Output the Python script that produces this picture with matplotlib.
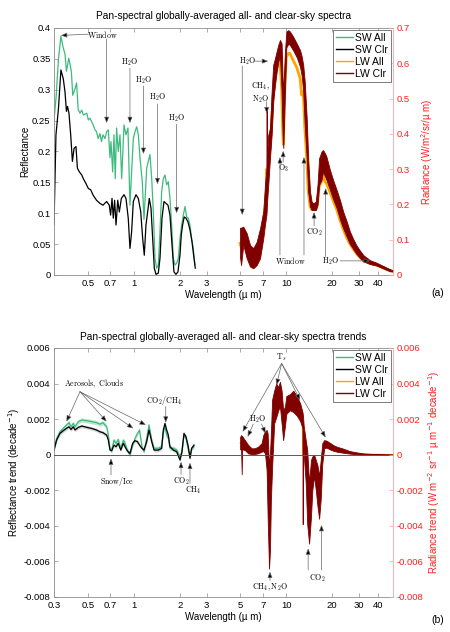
import matplotlib
matplotlib.use("Agg")
import matplotlib.pyplot as plt
from matplotlib.lines import Line2D
from matplotlib.ticker import NullLocator

plt.rcParams['font.family'] = ['Liberation Sans', 'DejaVu Sans']
plt.rcParams['font.size'] = 7
plt.rcParams['axes.linewidth'] = 0.6

# ---------------- panel (a): spectra ----------------
sw_all_wl = [0.300, 0.310, 0.321, 0.333, 0.343, 0.354, 0.362, 0.375, 0.383, 0.390,
             0.398, 0.410, 0.422, 0.432, 0.444, 0.456, 0.467, 0.492, 0.504, 0.516,
             0.542, 0.557, 0.570, 0.584, 0.600, 0.614, 0.628, 0.648, 0.664, 0.681,
             0.698, 0.709, 0.727, 0.742, 0.756, 0.772, 0.791, 0.812, 0.833, 0.863,
             0.889, 0.916, 0.944, 0.968, 0.993, 1.019, 1.045, 1.071, 1.098, 1.137,
             1.167, 1.215, 1.245, 1.277, 1.311, 1.343, 1.377, 1.413, 1.448, 1.485,
             1.523, 1.562, 1.601, 1.642, 1.684, 1.727, 1.771, 1.816, 1.862, 1.910,
             1.958, 2.008, 2.059, 2.112, 2.166, 2.221, 2.277, 2.335, 2.395, 2.455, 2.518]
sw_all_ref = [0.250, 0.290, 0.350, 0.387, 0.370, 0.358, 0.330, 0.351, 0.340, 0.329,
              0.291, 0.300, 0.311, 0.268, 0.262, 0.267, 0.259, 0.262, 0.251, 0.254,
              0.243, 0.235, 0.232, 0.221, 0.229, 0.216, 0.227, 0.221, 0.232, 0.235,
              0.190, 0.216, 0.167, 0.227, 0.156, 0.238, 0.200, 0.227, 0.156, 0.243,
              0.227, 0.238, 0.113, 0.167, 0.221, 0.232, 0.240, 0.227, 0.190, 0.151,
              0.090, 0.173, 0.184, 0.195, 0.156, 0.103, 0.027, 0.011, 0.016, 0.070,
              0.135, 0.156, 0.162, 0.146, 0.151, 0.124, 0.081, 0.027, 0.016, 0.019,
              0.027, 0.059, 0.081, 0.097, 0.111, 0.094, 0.092, 0.081, 0.059, 0.043, 0.016]

sw_clr_wl = [0.300, 0.309, 0.321, 0.333, 0.345, 0.354, 0.362, 0.368, 0.376, 0.386,
             0.396, 0.406, 0.418, 0.427, 0.440, 0.456, 0.467, 0.486, 0.504, 0.522,
             0.542, 0.570, 0.600, 0.628, 0.664, 0.691, 0.705, 0.720, 0.734, 0.749,
             0.765, 0.785, 0.804, 0.829, 0.863, 0.889, 0.920, 0.944, 0.968, 0.993,
             1.034, 1.071, 1.110, 1.144, 1.172, 1.202, 1.234, 1.264, 1.297, 1.330,
             1.363, 1.398, 1.448, 1.485, 1.531, 1.578, 1.626, 1.676, 1.727, 1.780,
             1.834, 1.890, 1.948, 2.008, 2.048, 2.090, 2.140, 2.199, 2.266, 2.335,
             2.407, 2.481, 2.530]
sw_clr_ref = [0.081, 0.227, 0.270, 0.332, 0.318, 0.297, 0.265, 0.273, 0.262, 0.227,
              0.184, 0.205, 0.208, 0.173, 0.167, 0.162, 0.156, 0.148, 0.140, 0.138,
              0.129, 0.121, 0.116, 0.113, 0.119, 0.113, 0.097, 0.124, 0.092, 0.121,
              0.081, 0.121, 0.102, 0.124, 0.130, 0.124, 0.092, 0.043, 0.070, 0.119,
              0.130, 0.124, 0.103, 0.059, 0.032, 0.081, 0.103, 0.124, 0.108, 0.059,
              0.011, 0.001, 0.003, 0.027, 0.092, 0.119, 0.116, 0.113, 0.097, 0.049,
              0.005, 0.001, 0.005, 0.032, 0.065, 0.081, 0.094, 0.092, 0.086, 0.073,
              0.054, 0.027, 0.011]

# LW radiance: envelope of the dense line-by-line spectrum
rad_wl = [4.97, 5.05, 5.22, 5.50, 5.78, 6.07, 6.39, 6.72, 7.06, 7.24,
          7.40, 7.43, 7.46, 7.61, 7.81, 8.01, 8.20, 8.42, 8.63, 8.85,
          9.08, 9.31, 9.45, 9.55, 9.64, 9.79, 10.0, 10.3, 10.55, 11.1,
          11.7, 12.3, 12.6, 12.9, 13.2, 13.6, 13.9, 14.3, 14.65, 15.0,
          15.6, 16.0, 16.4, 17.0, 17.4, 17.9, 18.3, 19.3, 20.3, 21.4,
          22.5, 23.6, 24.9, 26.1, 27.5, 28.9, 30.4, 32.0, 35.3, 38.9,
          43.0, 47.5, 50.0]
lw_clr_hi = [0.134, 0.134, 0.137, 0.118, 0.085, 0.076, 0.094, 0.132, 0.180, 0.255,
             0.300, 0.470, 0.330, 0.397, 0.416, 0.520, 0.595, 0.614, 0.633, 0.652,
             0.666, 0.656, 0.557, 0.520, 0.560, 0.633, 0.690, 0.694, 0.690, 0.675,
             0.656, 0.637, 0.620, 0.595, 0.548, 0.444, 0.331, 0.236, 0.208, 0.203,
             0.208, 0.255, 0.331, 0.350, 0.354, 0.345, 0.336, 0.298, 0.268, 0.240,
             0.211, 0.179, 0.151, 0.123, 0.101, 0.083, 0.069, 0.056, 0.042, 0.035,
             0.026, 0.017, 0.013]
lw_clr_lo = [0.050, 0.028, 0.085, 0.047, 0.024, 0.019, 0.028, 0.047, 0.104, 0.142,
             0.170, 0.180, 0.200, 0.255, 0.331, 0.397, 0.491, 0.538, 0.576, 0.604,
             0.623, 0.520, 0.397, 0.360, 0.420, 0.520, 0.645, 0.655, 0.652, 0.636,
             0.617, 0.590, 0.565, 0.520, 0.425, 0.331, 0.236, 0.194, 0.184, 0.184,
             0.184, 0.198, 0.255, 0.270, 0.293, 0.280, 0.270, 0.242, 0.214, 0.189,
             0.157, 0.132, 0.108, 0.088, 0.073, 0.059, 0.048, 0.039, 0.031, 0.027,
             0.019, 0.011, 0.010]
lw_all_rad = [0.090, 0.080, 0.110, 0.080, 0.050, 0.045, 0.060, 0.090, 0.140, 0.190,
              0.230, 0.300, 0.260, 0.310, 0.360, 0.430, 0.510, 0.550, 0.580, 0.600,
              0.610, 0.530, 0.420, 0.370, 0.430, 0.540, 0.618, 0.628, 0.628, 0.608,
              0.588, 0.558, 0.510, 0.520, 0.420, 0.330, 0.240, 0.195, 0.185, 0.185,
              0.185, 0.200, 0.250, 0.265, 0.285, 0.265, 0.260, 0.235, 0.210, 0.185,
              0.155, 0.130, 0.105, 0.088, 0.073, 0.060, 0.050, 0.040, 0.033, 0.028,
              0.020, 0.012, 0.010]

# ---------------- panel (b): trends ----------------
trend_sw_wl = [0.300, 0.312, 0.328, 0.345, 0.362, 0.376, 0.388, 0.401, 0.412, 0.433,
               0.456, 0.492, 0.528, 0.570, 0.600, 0.628, 0.664, 0.681, 0.698, 0.716,
               0.742, 0.765, 0.791, 0.821, 0.854, 0.876, 0.906, 0.944, 0.983, 1.019,
               1.058, 1.090, 1.131, 1.167, 1.215, 1.258, 1.311, 1.357, 1.448, 1.523,
               1.562, 1.601, 1.642, 1.684, 1.727, 1.816, 1.910, 2.008, 2.069, 2.133,
               2.199, 2.277, 2.335, 2.395, 2.481]
sw_all_trend = [0.00026, 0.00092, 0.00129, 0.00148, 0.00167, 0.00180, 0.00157, 0.00176, 0.00157, 0.00186,
                0.00195, 0.00191, 0.00186, 0.00180, 0.00172, 0.00180, 0.00157, 0.00110, 0.00036, 0.00026,
                0.00082, 0.00064, 0.00086, 0.00036, 0.00082, 0.00064, 0.00026, -0.00002, 0.00054, 0.00092,
                0.00120, 0.00139, 0.00045, 0.00017, 0.00092, 0.00167, 0.00082, 0.00036, 0.00036, 0.00045,
                0.00129, 0.00157, 0.00110, 0.00092, 0.00036, 0.00036, 0.00026, -0.00011, 0.00017, 0.00110,
                0.00092, 0.00026, -0.00010, 0.00036, 0.00045]
sw_clr_trend = [0.00026, 0.00082, 0.00120, 0.00135, 0.00148, 0.00157, 0.00142, 0.00157, 0.00139, 0.00154,
                0.00161, 0.00154, 0.00148, 0.00139, 0.00129, 0.00124, 0.00110, 0.00082, 0.00026, 0.00022,
                0.00054, 0.00045, 0.00064, 0.00026, 0.00064, 0.00045, 0.00022, 0.00007, 0.00064, 0.00079,
                0.00073, 0.00054, 0.00036, 0.00026, 0.00073, 0.00139, 0.00073, 0.00026, 0.00026, 0.00036,
                0.00139, 0.00176, 0.00139, 0.00110, 0.00045, 0.00026, 0.00017, -0.00030, 0.00017, 0.00120,
                0.00101, 0.00045, -0.00020, 0.00036, 0.00054]
sw_all_unc = 0.00012
sw_clr_unc = 0.00010

trend_lw_wl = [4.98, 5.05, 5.10, 5.13, 5.35, 5.63, 5.92, 6.20, 6.53, 6.88,
               7.06, 7.24, 7.43, 7.54, 7.70, 7.81, 7.92, 8.07, 8.32, 8.58,
               8.85, 9.08, 9.31, 9.53, 9.79, 10.0, 10.55, 11.1, 11.7, 12.3,
               12.75, 12.8, 12.85, 13.0, 13.4, 13.7, 14.1, 14.5, 14.8, 15.2,
               15.6, 16.0, 16.4, 16.8, 17.2, 17.7, 18.3, 19.3, 20.3, 21.4,
               23.6, 26.1, 28.9, 32.0, 37.3, 44.0, 50.0]
lw_clr_trend_hi = [0.00100, 0.00110, 0.00105, 0.00105, 0.00082, 0.00054, 0.00036, 0.00036, 0.00045, 0.00064,
                   0.00110, 0.00130, 0.00139, 0.00120, -0.00067, 0.00000, 0.00120, 0.00310, 0.00360, 0.00400,
                   0.00380, 0.00410, 0.00360, 0.00250, 0.00270, 0.00330, 0.00340, 0.00360, 0.00330, 0.00290,
                   0.00240, 0.00230, 0.00220, 0.00160, 0.00082, 0.00026, -0.00160, -0.00030, -0.00010, 0.00000,
                   -0.00030, -0.00060, -0.00120, -0.00030, 0.00064, 0.00082, 0.00079, 0.00067, 0.00054, 0.00045,
                   0.00034, 0.00020, 0.00013, 0.00007, 0.00004, 0.00002, 0.00001]
lw_clr_trend_lo = [0.00030, 0.00030, -0.00110, 0.00030, 0.00026, 0.00007, 0.00004, 0.00004, 0.00008, 0.00017,
                   0.00020, 0.00008, -0.00086, -0.00350, -0.00640, -0.00540, -0.00255, -0.00067, 0.00176, 0.00210,
                   0.00250, 0.00270, 0.00176, 0.00082, 0.00160, 0.00230, 0.00250, 0.00240, 0.00220, 0.00190,
                   0.00150, -0.00390, 0.00100, 0.00000, -0.00160, -0.00390, -0.00500, -0.00350, -0.00200, -0.00120,
                   -0.00200, -0.00290, -0.00360, -0.00250, -0.00050, 0.00036, 0.00040, 0.00030, 0.00022, 0.00017,
                   0.00011, 0.00006, 0.00002, 0.00000, 0.00000, 0.00000, 0.00000]
lw_all_trend = [0.00065, 0.00070, 0.00030, 0.00068, 0.00054, 0.00030, 0.00020, 0.00020, 0.00026, 0.00040,
                0.00065, 0.00070, 0.00030, -0.00120, -0.00350, -0.00270, -0.00070, 0.00120, 0.00270, 0.00310,
                0.00310, 0.00340, 0.00270, 0.00170, 0.00210, 0.00280, 0.00290, 0.00300, 0.00270, 0.00240,
                0.00190, 0.00000, 0.00160, 0.00080, -0.00040, -0.00180, -0.00330, -0.00190, -0.00110, -0.00060,
                -0.00120, -0.00180, -0.00240, -0.00140, 0.00010, 0.00060, 0.00060, 0.00048, 0.00038, 0.00030,
                0.00022, 0.00013, 0.00007, 0.00003, 0.00002, 0.00001, 0.00000]

xticks_a = [0.5, 0.7, 1, 2, 3, 5, 7, 10, 20, 30, 40]
xticks_b = [0.3] + xticks_a

SW_ALL_C = '#3dbb7d'
SW_CLR_C = 'black'
LW_ALL_C = '#ffa500'
LW_CLR_C = '#800000'
AX_C = '0.55'
RED = '#ff1f1f'
RED_SPINE = '#f5a3a3'

fig = plt.figure(figsize=(4.5, 6.32), dpi=100)


def make_axes(rect, xticks):
    ax = fig.add_axes(rect)
    ax.set_xscale('log')
    ax.set_xlim(0.3, 50)
    ax.set_xticks(xticks)
    ax.set_xticklabels([('%g' % t) for t in xticks])
    ax.xaxis.set_minor_locator(NullLocator())
    ax.tick_params(direction='in', length=3, width=0.5, color=AX_C, labelsize=6.8, pad=3,
                   top=True, right=False)
    ax.tick_params(axis='y', pad=2.5)
    for s in ['left', 'bottom', 'top']:
        ax.spines[s].set_color(AX_C)
    ax.spines['right'].set_visible(False)
    axr = ax.twinx()
    for s in ['left', 'bottom', 'top']:
        axr.spines[s].set_visible(False)
    axr.spines['right'].set_color(RED_SPINE)
    axr.tick_params(axis='y', direction='in', length=3, width=0.5, color=RED_SPINE,
                    labelcolor=RED, labelsize=6.8, pad=2.5)
    return ax, axr


def note(ax, x, y, s):
    ax.text(x, y, s, ha='center', va='center', fontsize=5.7, math_fontfamily='cm', zorder=6)


def arrow(ax, tail, head):
    ax.annotate('', xy=head, xytext=tail,
                arrowprops=dict(arrowstyle='-|>,head_length=0.45,head_width=0.18',
                                ec='0.4', fc='black', lw=0.5, mutation_scale=8,
                                shrinkA=0, shrinkB=0), zorder=6)


def legend(ax):
    handles = [Line2D([], [], color=SW_ALL_C, lw=1),
               Line2D([], [], color=SW_CLR_C, lw=1),
               Line2D([], [], color=LW_ALL_C, lw=1),
               Line2D([], [], color=LW_CLR_C, lw=1)]
    leg = ax.legend(handles, ['SW All', 'SW Clr', 'LW All', 'LW Clr'], loc='upper right',
                    fontsize=7.5, frameon=True, fancybox=False, framealpha=1,
                    edgecolor='0.4', handlelength=1.7, handletextpad=0.2,
                    labelspacing=0.2, borderpad=0.3, borderaxespad=0.15)
    leg.get_frame().set_linewidth(0.6)
    leg.set_zorder(10)


# ---------------- panel (a) ----------------
ax1, ax2 = make_axes([0.12, 0.5649, 0.7533, 0.3908], xticks_a)
ax1.plot(sw_all_wl, sw_all_ref, color=SW_ALL_C, lw=0.9)
ax1.plot(sw_clr_wl, sw_clr_ref, color=SW_CLR_C, lw=0.9)
ax1.set_ylim(0, 0.4)
yt = [0, 0.05, 0.1, 0.15, 0.2, 0.25, 0.3, 0.35, 0.4]
ax1.set_yticks(yt)
ax1.set_yticklabels(['%g' % v for v in yt])
ax1.set_ylabel('Reflectance', fontsize=7, labelpad=1)
ax1.set_xlabel('Wavelength (µ m)', fontsize=7, labelpad=1.5)
ax1.set_title('Pan-spectral globally-averaged all- and clear-sky spectra', fontsize=7.3, pad=6.5)

ax2.plot(rad_wl, lw_all_rad, color=LW_ALL_C, lw=2.0, zorder=1)
ax2.fill_between(rad_wl, lw_clr_lo, lw_clr_hi, color=LW_CLR_C, lw=0.6, zorder=2)
ax2.set_ylim(0, 0.7)
rt = [0, 0.1, 0.2, 0.3, 0.4, 0.5, 0.6, 0.7]
ax2.set_yticks(rt)
ax2.set_yticklabels(['%g' % v for v in rt])
ax2.set_ylabel('Radiance (W/m$^2$/sr/µ m)', color=RED, fontsize=7, labelpad=7)

note(ax1, 0.624, 0.390, r'$\mathrm{Window}$')
arrow(ax1, (0.505, 0.390), (0.333, 0.388))
arrow(ax1, (0.664, 0.382), (0.664, 0.246))
note(ax1, 0.944, 0.345, r'$\mathrm{H_2O}$')
arrow(ax1, (0.944, 0.335), (0.944, 0.246))
note(ax1, 1.157, 0.316, r'$\mathrm{H_2O}$')
arrow(ax1, (1.157, 0.306), (1.157, 0.196))
note(ax1, 1.43, 0.287, r'$\mathrm{H_2O}$')
arrow(ax1, (1.43, 0.277), (1.43, 0.147))
note(ax1, 1.91, 0.254, r'$\mathrm{H_2O}$')
arrow(ax1, (1.91, 0.244), (1.91, 0.100))

note(ax2, 5.6, 0.606, r'$\mathrm{H_2O}$')
arrow(ax2, (6.2, 0.606), (7.6, 0.606))
arrow(ax2, (5.14, 0.592), (5.14, 0.170))
note(ax2, 6.8, 0.516, '$\\mathrm{CH_4,}$\n$\\mathrm{N_2O}$')
arrow(ax2, (7.43, 0.491), (7.43, 0.458))
note(ax2, 9.64, 0.302, r'$\mathrm{O_3}$')
arrow(ax2, (9.53, 0.320), (9.53, 0.352))
note(ax2, 10.55, 0.040, r'$\mathrm{Window}$')
arrow(ax2, (9.08, 0.057), (9.08, 0.334))
arrow(ax2, (13.05, 0.057), (13.05, 0.334))
note(ax2, 15.2, 0.121, r'$\mathrm{CO_2}$')
arrow(ax2, (15.2, 0.139), (15.2, 0.178))
note(ax2, 19.6, 0.040, r'$\mathrm{H_2O}$')
arrow(ax2, (18.1, 0.052), (18.1, 0.246))
arrow(ax2, (22.5, 0.040), (35.3, 0.040))
legend(ax2)

# ---------------- panel (b) ----------------
ax3, ax4 = make_axes([0.12, 0.0554, 0.7533, 0.394], xticks_b)
ax3.fill_between(trend_sw_wl, [v - sw_all_unc for v in sw_all_trend],
                 [v + sw_all_unc for v in sw_all_trend], color=SW_ALL_C, alpha=0.35, lw=0)
ax3.fill_between(trend_sw_wl, [v - sw_clr_unc for v in sw_clr_trend],
                 [v + sw_clr_unc for v in sw_clr_trend], color='0.5', alpha=0.35, lw=0)
ax3.plot(trend_sw_wl, sw_all_trend, color=SW_ALL_C, lw=0.9)
ax3.plot(trend_sw_wl, sw_clr_trend, color=SW_CLR_C, lw=0.9)
ax3.plot(trend_lw_wl, lw_all_trend, color=LW_ALL_C, lw=0.9, zorder=1)
ax3.fill_between(trend_lw_wl, lw_clr_trend_lo, lw_clr_trend_hi, color=LW_CLR_C, lw=0.6, zorder=2)
ax3.axhline(0, color='0.35', lw=0.7, zorder=4)
tt = [-0.008, -0.006, -0.004, -0.002, 0, 0.002, 0.004, 0.006]
tl = ['-0.008', '-0.006', '-0.004', '-0.002', '0', '0.002', '0.004', '0.006']
for a in (ax3, ax4):
    a.set_ylim(-0.008, 0.006)
    a.set_yticks(tt)
    a.set_yticklabels(tl)
ax3.set_ylabel('Reflectance trend (decade$^{-1}$)', fontsize=7, labelpad=1)
ax4.set_ylabel('Radiance trend (W m$^{-2}$ sr$^{-1}$ µ m$^{-1}$ decade$^{-1}$)', color=RED,
               fontsize=7, labelpad=2)
ax3.set_xlabel('Wavelength (µ m)', fontsize=7, labelpad=1.5)
ax3.set_title('Pan-spectral globally-averaged all- and clear-sky spectra trends', fontsize=7.3, pad=5.5)

note(ax3, 0.546, 0.00401, r'$\mathrm{Aerosols,\ Clouds}$')
for head in [(0.362, 0.00186), (0.664, 0.00186), (0.993, 0.00148), (1.20, 0.00167)]:
    arrow(ax3, (0.444, 0.00354), head)
note(ax3, 1.58, 0.00307, r'$\mathrm{CO_2/CH_4}$')
arrow(ax3, (1.62, 0.00270), (1.62, 0.00180))
note(ax3, 0.772, -0.00152, r'$\mathrm{Snow/Ice}$')
arrow(ax3, (0.709, -0.00114), (0.709, -0.00021))
note(ax3, 2.04, -0.00148, r'$\mathrm{CO_2}$')
arrow(ax3, (2.04, -0.00110), (2.04, -0.00040))
note(ax3, 2.45, -0.00202, r'$\mathrm{CH_4}$')
arrow(ax3, (2.335, -0.00161), (2.335, -0.00045))

note(ax3, 9.2, 0.0055, r'$\mathrm{T}_s$')
for head in [(5.17, 0.00129), (8.63, 0.00392), (12.3, 0.00307), (18.1, 0.00097)]:
    arrow(ax3, (9.31, 0.00513), head)
note(ax3, 6.5, 0.00199, r'$\mathrm{H_2O}$')
arrow(ax3, (6.07, 0.00172), (5.58, 0.00101))
arrow(ax3, (6.88, 0.00172), (7.3, 0.00120))
note(ax3, 7.81, -0.00746, r'$\mathrm{CH_4,N_2O}$')
arrow(ax3, (7.81, -0.00708), (7.81, -0.00658))
note(ax3, 15.9, -0.00695, r'$\mathrm{CO_2}$')
arrow(ax3, (13.9, -0.00648), (13.9, -0.00527))
arrow(ax3, (17.0, -0.00648), (17.0, -0.00395))
legend(ax4)

fig.text(0.973, 0.5364, '(a)', ha='center', va='center', fontsize=7.5)
fig.text(0.973, 0.019, '(b)', ha='center', va='center', fontsize=7.5)

fig.savefig('out.png', dpi=100)
